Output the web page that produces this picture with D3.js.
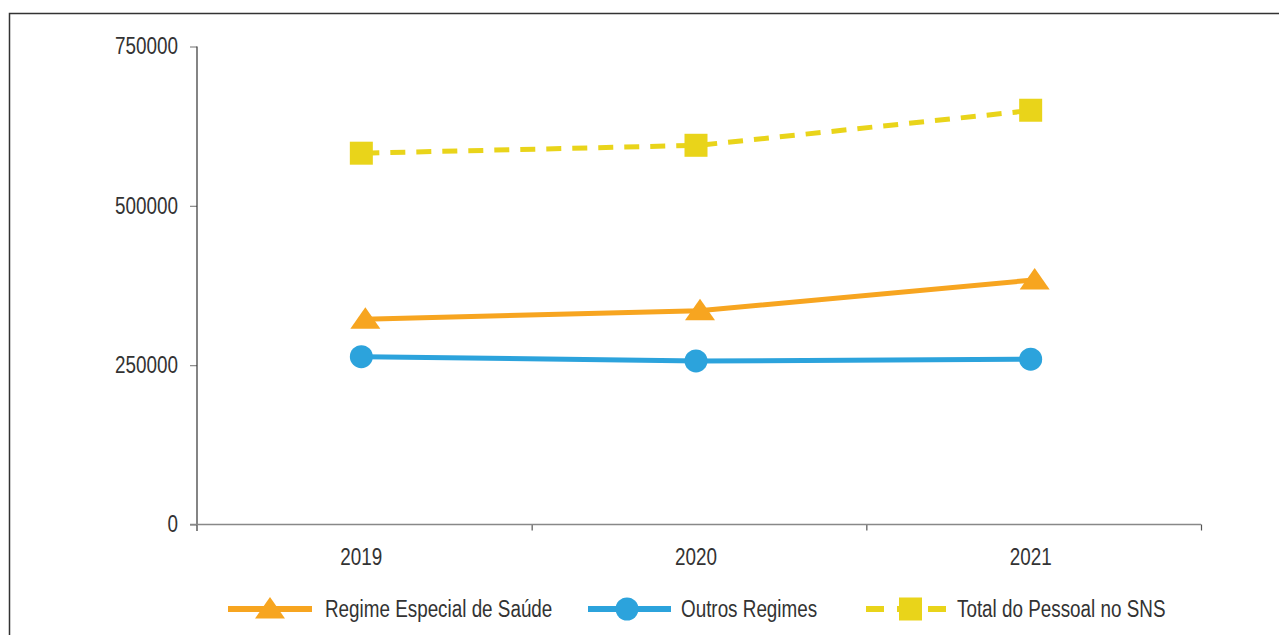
<!DOCTYPE html>
<html>
<head>
<meta charset="utf-8">
<script src="https://cdn.jsdelivr.net/npm/d3@7"></script>
<style>
  body { margin: 0; background: #fff; }
  text { font-family: "Liberation Sans", "Arial", sans-serif; fill: #333; }
</style>
</head>
<body>
<script>
  // data
  const years = ["2019", "2020", "2021"];
  const regimeEspecial = [322000, 335500, 383700];
  const outrosRegimes = [263300, 256600, 259300];
  const totalSNS = [582600, 595000, 650000];
  const yTicks = [0, 250000, 500000, 750000];

  const w = 1279;
  const h = 635;
  const squeeze = 0.82; // fake a narrow face, no condensed font installed

  // squeeze text horizontally, keeping its anchor where it was
  const narrow = (sel) => {
    sel.each(function () {
      const t = d3.select(this);
      const x0 = +t.attr("x") || 0;
      t.attr("x", x0 / squeeze).attr("transform", "scale(" + squeeze + ",1)");
    });
  };

  const svg = d3.select("body").append("svg").attr("width", w).attr("height", h);

  // outer frame (only top and left visible)
  svg.append("rect")
    .attr("x", 9.5).attr("y", 13.5)
    .attr("width", 1400).attr("height", 800)
    .attr("fill", "none").attr("stroke", "#333").attr("stroke-width", 1.5);

  // scales
  const x = d3.scaleBand().domain(years).range([197, 1201]);
  const xEdge = d3.scaleLinear().domain([0, years.length]).range([197, 1201]);
  const y = d3.scaleLinear().domain([0, 750000]).range([524.5, 46.5]);
  const cx = (d, i) => x(years[i]) + x.bandwidth() / 2;

  // y axis
  const yAxis = svg.append("g")
    .attr("transform", "translate(197,0)")
    .call(d3.axisLeft(y).tickValues(yTicks).tickSize(7).tickPadding(12).tickFormat(d3.format("d")));
  yAxis.select(".domain").remove();
  yAxis.selectAll(".tick line").attr("stroke", "#888").attr("stroke-width", 1.2);
  yAxis.selectAll(".tick text").style("font-size", "23px").attr("fill", "#333").call(narrow);
  svg.append("line")
    .attr("x1", 197).attr("x2", 197)
    .attr("y1", y(750000)).attr("y2", 531)
    .attr("stroke", "#333").attr("stroke-width", 1.2);

  // x axis
  const xAxis = svg.append("g")
    .attr("transform", "translate(0," + y(0) + ")")
    .call(d3.axisBottom(xEdge).tickValues([1, 2, 3]).tickSize(6).tickFormat(""));
  xAxis.select(".domain").remove();
  xAxis.selectAll(".tick line").attr("stroke", "#555").attr("stroke-width", 1.2);
  svg.append("line")
    .attr("x1", 190).attr("x2", 1201)
    .attr("y1", y(0)).attr("y2", y(0))
    .attr("stroke", "#888").attr("stroke-width", 1.5);

  svg.append("g")
    .selectAll("text")
    .data(years)
    .enter()
    .append("text")
    .attr("x", (d) => x(d) + x.bandwidth() / 2 - 3)
    .attr("y", 565)
    .attr("text-anchor", "middle")
    .style("font-size", "23px")
    .text((d) => d)
    .call(narrow);

  const line = d3.line().x(cx).y((d) => y(d));

  const triPath = "M0,-12L15,9.5L-15,9.5Z";

  // total (dashed yellow)
  svg.append("path")
    .datum(totalSNS)
    .attr("d", line)
    .attr("fill", "none")
    .attr("stroke", "#E9D41A")
    .attr("stroke-width", 5)
    .attr("stroke-dasharray", "15,11");
  svg.selectAll(".sq")
    .data(totalSNS)
    .enter()
    .append("rect")
    .attr("class", "sq")
    .attr("x", (d, i) => cx(d, i) - 11.5 - 3)
    .attr("y", (d) => y(d) - 11.5)
    .attr("width", 23).attr("height", 23)
    .attr("fill", "#E9D41A");

  // regime especial (orange)
  svg.append("path")
    .datum(regimeEspecial)
    .attr("d", line)
    .attr("fill", "none")
    .attr("stroke", "#F7A520")
    .attr("stroke-width", 5);
  svg.selectAll(".tri")
    .data(regimeEspecial)
    .enter()
    .append("path")
    .attr("class", "tri")
    .attr("d", triPath)
    .attr("transform", (d, i) => "translate(" + (cx(d, i) + 1) + "," + y(d) + ")")
    .attr("fill", "#F7A520");

  // outros regimes (blue)
  svg.append("path")
    .datum(outrosRegimes)
    .attr("d", line)
    .attr("fill", "none")
    .attr("stroke", "#2CA3DC")
    .attr("stroke-width", 5);
  svg.selectAll(".dot")
    .data(outrosRegimes)
    .enter()
    .append("circle")
    .attr("class", "dot")
    .attr("cx", (d, i) => cx(d, i) - 3)
    .attr("cy", (d) => y(d))
    .attr("r", 11.5)
    .attr("fill", "#2CA3DC");

  // legend
  const lg = svg.append("g").attr("transform", "translate(0,609)");

  lg.append("line").attr("x1", 228).attr("x2", 312).attr("y1", 0).attr("y2", 0)
    .attr("stroke", "#F7A520").attr("stroke-width", 6);
  lg.append("path").attr("d", triPath).attr("transform", "translate(270,0)").attr("fill", "#F7A520");
  lg.append("text").attr("x", 325).attr("y", 8).style("font-size", "23px").text("Regime Especial de Saúde").call(narrow);

  lg.append("line").attr("x1", 588).attr("x2", 671).attr("y1", 0).attr("y2", 0)
    .attr("stroke", "#2CA3DC").attr("stroke-width", 6);
  lg.append("circle").attr("cx", 627).attr("cy", 0).attr("r", 11.5).attr("fill", "#2CA3DC");
  lg.append("text").attr("x", 681).attr("y", 8).style("font-size", "23px").text("Outros Regimes").call(narrow);

  lg.append("line").attr("x1", 866).attr("x2", 946).attr("y1", 0).attr("y2", 0)
    .attr("stroke", "#E9D41A").attr("stroke-width", 6).attr("stroke-dasharray", "18,13");
  lg.append("rect").attr("x", 899).attr("y", -11.5).attr("width", 23).attr("height", 23).attr("fill", "#E9D41A");
  lg.append("text").attr("x", 957).attr("y", 8).style("font-size", "23px").text("Total do Pessoal no SNS").call(narrow);
</script>
</body>
</html>
